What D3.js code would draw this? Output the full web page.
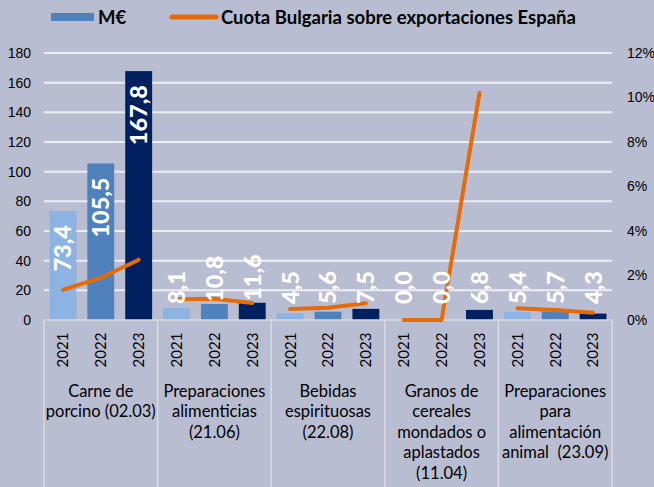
<!DOCTYPE html>
<html>
<head>
<meta charset="utf-8">
<script src="https://cdn.jsdelivr.net/npm/d3@7"></script>
<style>
  body { margin: 0; background: #b9bdd2; }
  svg { display: block; font-family: Lato, "Open Sans", sans-serif; }
</style>
</head>
<body>
<svg id="chart"></svg>
<script>
// categories and values
var categories = ["Carne de porcino (02.03)", "Preparaciones alimenticias (21.06)", "Bebidas espirituosas (22.08)", "Granos de cereales mondados o aplastados (11.04)", "Preparaciones para alimentación animal (23.09)"]
var categoryLines = [
    ["Carne de", "porcino (02.03)"],
    ["Preparaciones", "alimenticias", "(21.06)"],
    ["Bebidas", "espirituosas", "(22.08)"],
    ["Granos de", "cereales", "mondados o", "aplastados", "(11.04)"],
    ["Preparaciones", "para", "alimentación", "animal  (23.09)"]
]
var years = ["2021", "2022", "2023"]
var meur = [
    [73.4, 105.5, 167.8],
    [8.1, 10.8, 11.6],
    [4.5, 5.6, 7.5],
    [0.0, 0.0, 6.8],
    [5.4, 5.7, 4.3]
]
// cuota, in percent
var cuota = [
    [1.35, 1.9, 2.7],
    [0.93, 0.96, 0.76],
    [0.49, 0.55, 0.75],
    [0.0, 0.0, 10.2],
    [0.53, 0.45, 0.33]
]
var leftTicks = [0, 20, 40, 60, 80, 100, 120, 140, 160, 180]
var rightTicks = [0, 2, 4, 6, 8, 10, 12]

var dimensions = {
    width: 654,
    height: 487,
    margin: { top: 53, bottom: 167, left: 44, right: 42 }
}
var colors = { "2021": "#8db3e2", "2022": "#4f81bd", "2023": "#002060" }
var lineColor = "#e36c09"

var svg = d3.select("#chart")
    .attr("width", dimensions.width)
    .attr("height", dimensions.height)

var plotBottom = dimensions.height - dimensions.margin.bottom
var plotRight = dimensions.width - dimensions.margin.right

var xGroup = d3.scaleBand()
    .domain(categories)
    .range([dimensions.margin.left, plotRight])

var xYear = d3.scaleBand()
    .domain(years)
    .range([0, xGroup.bandwidth()])
    .paddingInner(0.29)
    .paddingOuter(0.145)

var yLeft = d3.scaleLinear().domain([0, 180]).range([plotBottom, dimensions.margin.top])
var yRight = d3.scaleLinear().domain([0, 12]).range([plotBottom, dimensions.margin.top])

// gridlines
svg.append("g")
    .selectAll("line")
    .data(leftTicks.filter(d => d > 0))
    .enter()
    .append("line")
    .attr("x1", dimensions.margin.left)
    .attr("x2", plotRight)
    .attr("y1", d => yLeft(d))
    .attr("y2", d => yLeft(d))
    .style("stroke", "#eceef4")
    .style("stroke-width", 2)

// left axis labels
var yAxisLeft = svg.append("g")
    .attr("transform", `translate(${dimensions.margin.left - 13},0)`)
    .call(d3.axisLeft(yLeft).tickValues(leftTicks).tickSize(0).tickPadding(0))
yAxisLeft.select(".domain").remove()
yAxisLeft.selectAll("text")
    .style("font-size", "14px")
    .style("fill", "#000")

// right axis labels
var yAxisRight = svg.append("g")
    .attr("transform", `translate(${plotRight + 15},0)`)
    .call(d3.axisRight(yRight).tickValues(rightTicks).tickSize(0).tickPadding(0).tickFormat(d => d + "%"))
yAxisRight.select(".domain").remove()
yAxisRight.selectAll("text")
    .style("font-size", "14px")
    .style("fill", "#000")

// bars
var flat = []
categories.forEach(function (c, i) {
    years.forEach(function (y, j) {
        flat.push({ cat: c, year: y, value: meur[i][j], share: cuota[i][j], gi: i })
    })
})

var barX = d => xGroup(d.cat) + xYear(d.year)

svg.append("g")
    .selectAll("rect")
    .data(flat)
    .enter()
    .append("rect")
    .attr("x", d => barX(d))
    .attr("y", d => yLeft(d.value))
    .attr("width", xYear.bandwidth())
    .attr("height", d => plotBottom - yLeft(d.value))
    .attr("fill", d => colors[d.year])

// x axis line and group separators
var axisG = svg.append("g").style("stroke", "#d9dae2").style("stroke-width", 1.5)
axisG.append("line")
    .attr("x1", dimensions.margin.left).attr("x2", plotRight)
    .attr("y1", plotBottom).attr("y2", plotBottom)
axisG.selectAll(".sep")
    .data(categories.concat(["end"]))
    .enter()
    .append("line")
    .attr("x1", (d, i) => i < categories.length ? xGroup(d) : plotRight)
    .attr("x2", (d, i) => i < categories.length ? xGroup(d) : plotRight)
    .attr("y1", plotBottom)
    .attr("y2", dimensions.height)

// share line, one piece per category
var line = d3.line()
    .x(d => barX(d) + xYear.bandwidth() / 2)
    .y(d => yRight(d.share))

svg.append("g")
    .selectAll("path")
    .data(categories.map((c, i) => flat.filter(d => d.gi === i)))
    .enter()
    .append("path")
    .attr("d", line)
    .style("fill", "none")
    .style("stroke", lineColor)
    .style("stroke-width", 4)
    .style("stroke-linecap", "round")
    .style("stroke-linejoin", "round")

// value labels
svg.append("g")
    .selectAll("text")
    .data(flat)
    .enter()
    .append("text")
    .attr("transform", function (d) {
        var cx = barX(d) + xYear.bandwidth() / 2
        var inside = plotBottom - yLeft(d.value) > 80
        var y = inside ? yLeft(d.value) + 14 : Math.min(yLeft(d.value), 306) - 2
        return `translate(${cx},${y}) rotate(-90)`
    })
    .attr("text-anchor", d => (plotBottom - yLeft(d.value) > 80) ? "end" : "start")
    .attr("dy", "0.36em")
    .style("font-size", "23.5px")
    .style("font-weight", "900")
    .style("fill", "#fff")
    .text(d => d.value.toFixed(1).replace(".", ","))

// year labels
svg.append("g")
    .selectAll("text")
    .data(flat)
    .enter()
    .append("text")
    .attr("transform", d => `translate(${barX(d) + xYear.bandwidth() / 2},${plotBottom + 30}) rotate(-90)`)
    .attr("text-anchor", "middle")
    .attr("dy", "0.36em")
    .style("font-size", "15px")
    .text(d => d.year)

// category labels
var catText = svg.append("g")
    .selectAll("text")
    .data(categories)
    .enter()
    .append("text")
    .attr("x", d => xGroup(d) + xGroup.bandwidth() / 2)
    .attr("y", plotBottom + 71)
    .attr("text-anchor", "middle")
    .style("font-size", "16.5px")

catText.selectAll("tspan")
    .data((d, i) => categoryLines[i])
    .enter()
    .append("tspan")
    .attr("x", function () { return d3.select(this.parentNode).attr("x") })
    .attr("dy", (d, i) => i === 0 ? "0.36em" : "20.5px")
    .style("white-space", "pre")
    .text(d => d)

// legend
var legend = svg.append("g")
legend.append("rect")
    .attr("x", 51).attr("y", 13)
    .attr("width", 43).attr("height", 8)
    .attr("fill", colors["2022"])
legend.append("text")
    .attr("x", 98).attr("y", 23.5)
    .style("font-size", "18.5px").style("font-weight", "bold")
    .text("M€")
legend.append("line")
    .attr("x1", 172).attr("x2", 216)
    .attr("y1", 17).attr("y2", 17)
    .style("stroke", lineColor).style("stroke-width", 5)
    .style("stroke-linecap", "round")
legend.append("text")
    .attr("x", 221).attr("y", 23.5)
    .style("font-size", "18.5px").style("font-weight", "bold")
    .text("Cuota Bulgaria sobre exportaciones España")
</script>
</body>
</html>
